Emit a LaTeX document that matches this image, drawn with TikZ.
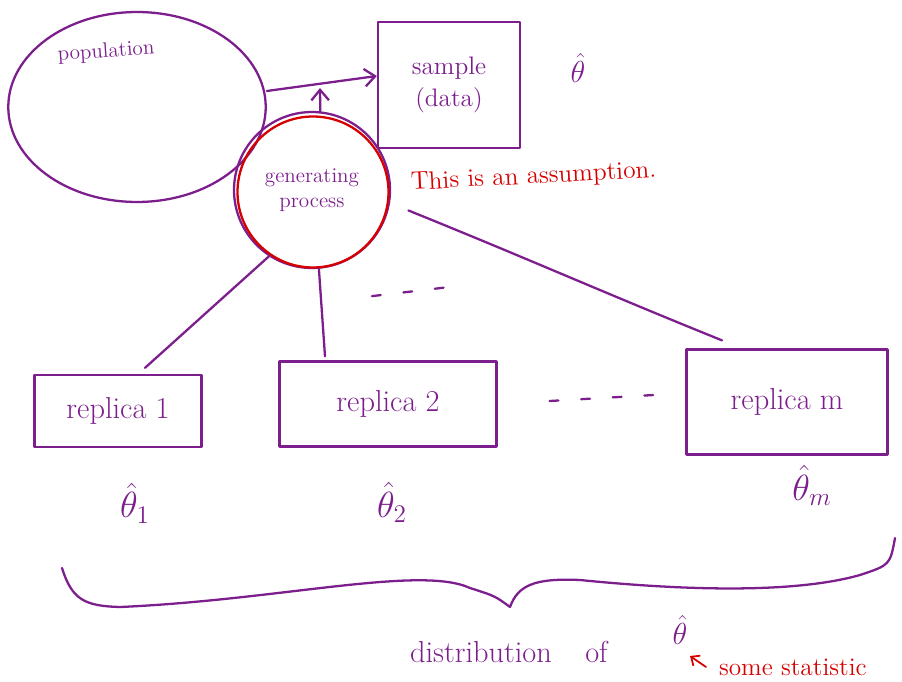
\documentclass[tikz,border=0pt]{standalone}
\usepackage{tikz}
\usetikzlibrary{calc,arrows.meta,shapes.geometric}
\definecolor{ink}{RGB}{124,31,141}
\definecolor{redink}{RGB}{214,0,0}

\begin{document}
\begin{tikzpicture}[x=0.02cm, y=-0.02cm, color=ink, line width=1.3pt, line cap=round, line join=round,
	box/.style={draw, inner sep=0pt},
	flow/.style={-{Straight Barb[length=6pt,width=10pt]}},
	dotsline/.style={dash pattern=on 5pt off 13pt}]
			%%%%% START %%%%%
			\useasboundingbox (0,0) rectangle (902,682);
			
			% population and the observed sample
			\node[draw, ellipse, minimum width=5.15cm, minimum height=3.8cm] (pop) at (137,107) {};
			\node[font=\large, rotate=4] (poplabel) at (106,52) {population};
			\node[box, minimum width=2.84cm, minimum height=2.52cm, font=\Large, align=center] (sample) at (449,85) {sample\\(data)};
			\node[font=\LARGE] (thetahat) at (578,68) {$\hat\theta$};
			\draw[flow] ($(pop.east)+(0,-16)$) -- ($(sample.west)+(0,-9)$);
			
			% generating process
			\node[draw, circle, minimum size=3.12cm, font=\large, align=center] (gen) at (312,190) {generating\\process};
			\node[draw=redink, circle, minimum size=3.02cm] (genred) at (313,192) {};
			\coordinate (tap) at (320,88);
			\draw[flow] (gen.84) -- (tap);
			\node[redink, font=\Large, rotate=3, anchor=west] (assume) at (404,184) {This is an assumption.};
			
			% replicas
			\node[box, minimum width=3.34cm, minimum height=1.44cm, font=\LARGE] (rep1) at (118,411) {replica 1};
			\node[box, minimum width=4.34cm, minimum height=1.7cm, font=\LARGE] (rep2) at (388,404) {replica 2};
			\node[box, minimum width=4.02cm, minimum height=2.1cm, font=\LARGE] (repm) at (787,402) {replica m};
			
			\draw (gen.237) -- ($(rep1.north)+(27,-6)$);
			\draw (gen.275) -- ($(rep2.north)+(-63,-4)$);
			\draw ($(gen.-15)+(20,0)$) to[out=-22, in=158] ($(repm.north)+(-65,-8)$);
			\draw[dotsline] ($(gen.south)+(60,27)$) -- +(85,-10);
			\draw[dotsline] ($(rep2.east)+(52,-3)$) -- ($(repm.west)+(-14,-8)$);
			
			\node[font=\huge] (th1) at ($(rep1.south)+(17,55)$) {$\hat\theta_1$};
			\node[font=\huge] (th2) at ($(rep2.south)+(4,55)$) {$\hat\theta_2$};
			\node[font=\huge] (thm) at ($(repm.south)+(25,30)$) {$\hat\theta_m$};
			
			% brace under the replicas
			\draw (62,568) .. controls (72,600) and (85,606) .. (120,607)
				.. controls (280,600) and (420,565) .. (470,588)
				.. controls (495,596) .. (510,607)
				.. controls (518,585) and (535,578) .. (580,580)
				.. controls (700,592) and (800,592) .. (860,575)
				.. controls (890,565) .. (895,538);
			
			\node[font=\LARGE, anchor=west] (distlabel) at (403,652) {distribution\hspace{1.1em}of};
			\node[font=\LARGE] (distth) at (680,630) {$\hat\theta$};
			\node[redink, font=\Large, anchor=west] (statlabel) at (712,667) {some statistic};
			\draw[redink, line width=1pt, -{Straight Barb[length=4pt,width=7pt]}] ($(statlabel.west)+(-6,0)$) -- +(-16,-11);
			
			%%%%% END %%%%%
\end{tikzpicture}
\end{document}
